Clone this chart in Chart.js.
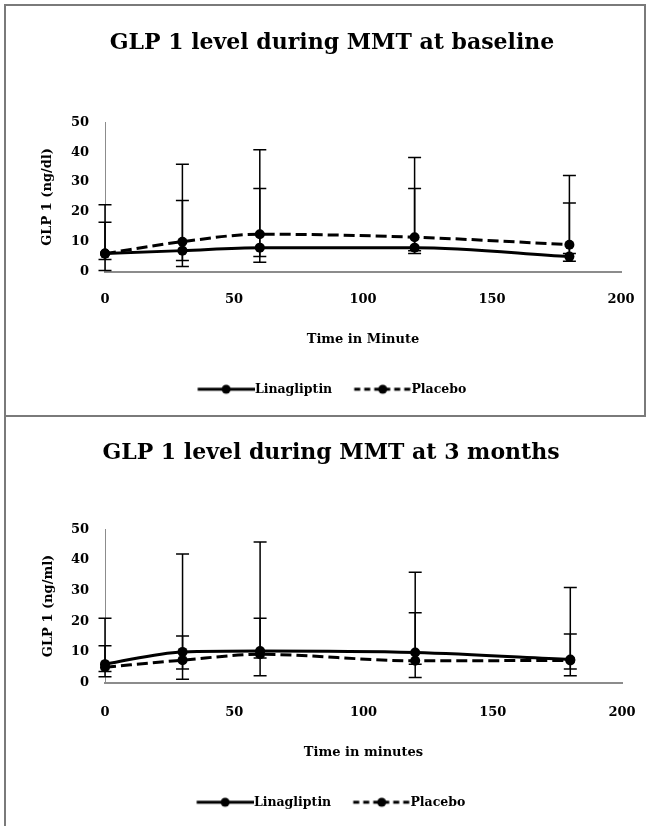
<!DOCTYPE html>
<html>
<head>
<meta charset="utf-8">
<script src="https://cdn.jsdelivr.net/npm/chart.js@4.4.1/dist/chart.umd.min.js"></script>
<style>
  body { margin: 0; background: #fff; width: 650px; height: 826px; overflow: hidden; position: relative; }
  .box { position: absolute; box-sizing: border-box; }
  #box1 { left: 4px; top: 4px; width: 642px; height: 413px; border: 2px solid #7a7a7a; }
  #box2 { left: 4px; top: 417px; width: 2px; height: 420px; background: #7a7a7a; }
  canvas { position: absolute; }
  #c1 { left: 6px; top: 6px; }
  #c2 { left: 6px; top: 416px; }
</style>
</head>
<body>
<div class="box" id="box1"></div>
<div class="box" id="box2"></div>
<canvas id="c1" width="638" height="408"></canvas>
<canvas id="c2" width="644" height="410"></canvas>
<script>
// sampling times (minutes)
const times = [0, 30, 60, 120, 180];
const seriesNames = ['Linagliptin', 'Placebo'];

// baseline MMT
const baseLina = [6, 7, 8, 8, 5];
const baseLinaHigh = [16.5, 23.8, 27.8, 27.8, 23];
const baseLinaLow = [0.3, 3.7, 5, 6, 3.4];
const basePla = [6, 10, 12.5, 11.5, 9];
const basePlaHigh = [22.4, 36, 40.8, 38.2, 32.2];
const basePlaLow = [4, 1.7, 3.1, 7, 6];

// 3 months MMT
const m3Lina = [6, 10, 10.3, 9.8, 7.5];
const m3LinaHigh = [21, 42, 45.9, 36, 31];
const m3LinaLow = [3.6, 4.4, 2.2, 1.6, 4.4];
const m3Pla = [5, 7.3, 9.2, 7.1, 7.2];
const m3PlaHigh = [12, 15.2, 21, 22.8, 15.8];
const m3PlaLow = [1.9, 1.1, 8, 6, 2.2];

const serif = 'DejaVu Serif';

// excel style error bars, drawn under the markers
const errorBars = {
    id: 'errorBars',
    beforeDatasetsDraw(chart) {
        const { ctx, scales: { x, y } } = chart;
        ctx.save();
        ctx.strokeStyle = '#000';
        ctx.lineWidth = 1.5;
        chart.data.datasets.forEach(ds => {
            ds.errHigh.forEach((hi, i) => {
                const px = x.getPixelForValue(times[i]);
                const top = y.getPixelForValue(hi);
                const bot = y.getPixelForValue(ds.errLow[i]);
                ctx.beginPath();
                ctx.moveTo(px, top); ctx.lineTo(px, bot);
                ctx.moveTo(px - 6.5, top); ctx.lineTo(px + 6.5, top);
                ctx.moveTo(px - 6.5, bot); ctx.lineTo(px + 6.5, bot);
                ctx.stroke();
            });
        });
        ctx.restore();
    }
};

// legend symbol: line with a marker; the image sticks out 6.5px on the left, kept blank
function legendSymbol(dash) {
    const c = document.createElement('canvas');
    c.width = 64; c.height = 12;
    const g = c.getContext('2d');
    g.strokeStyle = '#000';
    g.lineWidth = 3;
    g.setLineDash(dash);
    g.beginPath(); g.moveTo(6.5, 6); g.lineTo(64, 6); g.stroke();
    g.fillStyle = '#000';
    g.beginPath(); g.arc(35, 6, 4.5, 0, Math.PI * 2); g.fill();
    return c;
}
const symbols = [legendSymbol([]), legendSymbol([6, 4])];

function makeChart(id, opt) {
    const series = [
        { mean: opt.lina, hi: opt.linaHigh, lo: opt.linaLow, dash: [] },
        { mean: opt.pla, hi: opt.plaHigh, lo: opt.plaLow, dash: [11, 5] }
    ];
    return new Chart(document.getElementById(id), {
        type: 'line',
        data: {
            datasets: series.map((s, i) => ({
                label: seriesNames[i],
                data: times.map((t, k) => ({ x: t, y: s.mean[k] })),
                errHigh: s.hi,
                errLow: s.lo,
                borderColor: '#000',
                backgroundColor: '#000',
                borderWidth: 3,
                borderDash: s.dash,
                pointRadius: 5,
                pointBackgroundColor: '#000',
                pointBorderWidth: 0,
                cubicInterpolationMode: 'monotone',
                clip: false
            }))
        },
        options: {
            responsive: false,
            animation: false,
            layout: { padding: { left: opt.padL, right: opt.padR, top: 0, bottom: opt.padB } },
            plugins: {
                title: {
                    display: true,
                    text: opt.title,
                    color: '#000',
                    font: { family: serif, size: 22, weight: 'bold' },
                    padding: { top: 24, bottom: opt.titleGap }
                },
                legend: {
                    position: 'bottom',
                    onClick: null,
                    labels: {
                        usePointStyle: true,
                        pointStyleWidth: 51,
                        color: '#000',
                        padding: 22,
                        font: { family: serif, size: 12.5, weight: 'bold' },
                        generateLabels: chart => chart.data.datasets.map((ds, i) => ({
                            text: ds.label,
                            pointStyle: symbols[i],
                            fillStyle: '#000',
                            strokeStyle: '#000',
                            lineWidth: 0,
                            fontColor: '#000',
                            hidden: false,
                            datasetIndex: i
                        }))
                    }
                },
                tooltip: { enabled: false }
            },
            scales: {
                x: {
                    type: 'linear',
                    min: 0,
                    max: 200,
                    grid: { display: false, drawTicks: false },
                    border: { display: true, color: '#8c8c8c', width: 2 },
                    ticks: { stepSize: 50, padding: opt.xTickPad, color: '#000', font: { family: serif, size: 13, weight: 'bold' } },
                    title: {
                        display: true,
                        text: opt.xTitle,
                        color: '#000',
                        font: { family: serif, size: 13, weight: 'bold' },
                        padding: { top: 0, bottom: 13.7 }
                    },
                    afterFit: s => {
                        s.height = opt.xHeight;
                        s.paddingLeft = 0;
                        s.paddingRight = 0;
                    }
                },
                y: {
                    min: 0,
                    max: 50,
                    grid: { display: false, drawTicks: false },
                    border: { display: true, color: '#8c8c8c', width: 1 },
                    ticks: { stepSize: 10, padding: 16, color: '#000', font: { family: serif, size: 13, weight: 'bold' } },
                    title: {
                        display: true,
                        text: opt.yTitle,
                        color: '#000',
                        font: { family: serif, size: 13, weight: 'bold' },
                        padding: { top: opt.yTitlePad, bottom: 0 }
                    },
                    afterFit: s => { s.width = opt.yWidth; }
                }
            }
        },
        plugins: [errorBars]
    });
}

makeChart('c1', {
    title: 'GLP 1 level during MMT at baseline',
    xTitle: 'Time in Minute',
    yTitle: 'GLP 1 (ng/dl)',
    lina: baseLina, linaHigh: baseLinaHigh, linaLow: baseLinaLow,
    pla: basePla, plaHigh: basePlaHigh, plaLow: basePlaLow,
    padL: 37, padR: 23, padB: 8.5, titleGap: 66,
    yWidth: 62, yTitlePad: -3, xHeight: 89.5, xTickPad: 20.5
});

makeChart('c2', {
    title: 'GLP 1 level during MMT at 3 months',
    xTitle: 'Time in minutes',
    yTitle: 'GLP 1 (ng/ml)',
    lina: m3Lina, linaHigh: m3LinaHigh, linaLow: m3LinaLow,
    pla: m3Pla, plaHigh: m3PlaHigh, plaLow: m3PlaLow,
    padL: 34, padR: 28, padB: 7.5, titleGap: 63,
    yWidth: 65, yTitlePad: 1, xHeight: 91.5, xTickPad: 22.5
});
</script>
</body>
</html>
